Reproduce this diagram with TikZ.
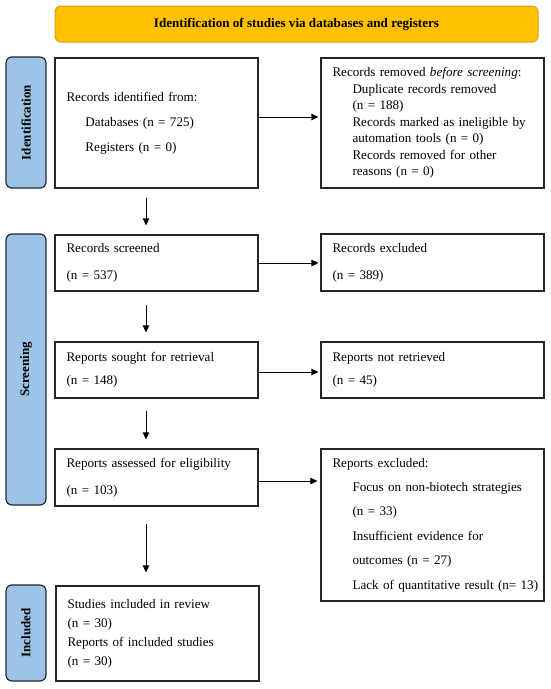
\documentclass[tikz,border=0pt]{standalone}
\usepackage{fontspec}
\setmainfont{Liberation Serif}
\usetikzlibrary{arrows.meta,calc}
\definecolor{gold}{HTML}{FFC000}
\definecolor{goldline}{HTML}{D4A20F}
\definecolor{barblue}{HTML}{9DC3E6}
\definecolor{barline}{HTML}{1C2A39}
\tikzset{
  stagebar/.style={draw=barline, fill=barblue, line width=1.2pt, rounded corners=6pt,
    minimum height=40pt, inner sep=0pt, rotate=90,
    font=\fontsize{13}{15}\selectfont\bfseries},
  banner/.style={draw=goldline, fill=gold, line width=1pt, rounded corners=6pt,
    minimum width=483pt, minimum height=36pt, inner sep=0pt,
    font=\fontsize{13.1}{15}\selectfont\bfseries},
  flowbox/.style={draw=black!85, line width=1.2pt, inner xsep=11.5pt, inner ysep=0pt,
    align=left, font=\fontsize{13.1}{16.5}\selectfont},
  leftbox/.style={flowbox, minimum width=203pt, text width=180pt},
  rightbox/.style={flowbox, minimum width=223pt, text width=200pt},
  arr/.style={line width=1pt, -{Triangle[length=7pt,width=6.5pt]}}
}
\begin{document}
\begin{tikzpicture}[x=1pt,y=-1pt]
\useasboundingbox (0,0) rectangle (550,689);
\fill[white] (0,0) rectangle (550,689);

\node[banner] (ban) at (296.5,24) {Identification of studies via databases and registers};

\node[stagebar, minimum width=131pt] (idbar) at (26,122.5) {Identification};
\node[stagebar, minimum width=271pt] (scbar) at (26,369.5) {Screening};
\node[stagebar, minimum width=96pt] (inbar) at (26,633) {Included};

\node[leftbox, minimum height=130pt, font=\fontsize{13.1}{25}\selectfont] (b1) at (156.5,123)
  {Records identified from:\\
   \hspace*{19pt}Databases (n = 725)\\
   \hspace*{19pt}Registers (n = 0)};
\node[rightbox, minimum height=130pt] (b2) at (432.5,123)
  {Records removed \textit{before screening}:\\
   \hspace*{20pt}Duplicate records removed\\
   \hspace*{20pt}(n = 188)\\
   \hspace*{20pt}Records marked as ineligible by\\
   \hspace*{20pt}automation tools (n = 0)\\
   \hspace*{20pt}Records removed for other\\
   \hspace*{20pt}reasons (n = 0)};

\node[leftbox, minimum height=56pt, font=\fontsize{13.1}{27}\selectfont] (scr) at (156.5,263)
  {Records screened\\(n = 537)};
\node[rightbox, minimum height=57pt, font=\fontsize{13.1}{27}\selectfont] (exc) at (432.5,262.5)
  {Records excluded\\(n = 389)};

\node[leftbox, minimum height=56pt, font=\fontsize{13.1}{23}\selectfont] (sou) at (156.5,370)
  {Reports sought for retrieval\\(n = 148)};
\node[rightbox, minimum height=56pt, font=\fontsize{13.1}{23}\selectfont] (nre) at (432.5,370)
  {Reports not retrieved\\(n = 45)};

\node[leftbox, minimum height=57pt, font=\fontsize{13.1}{27}\selectfont] (ass) at (156.5,477.5)
  {Reports assessed for eligibility\\(n = 103)};
\node[rightbox, minimum height=152pt, font=\fontsize{13.1}{24.4}\selectfont] (rex) at (432.5,525)
  {Reports excluded:\\
   \hspace*{20pt}Focus on non-biotech strategies\\
   \hspace*{20pt}(n = 33)\\
   \hspace*{20pt}Insufficient evidence for\\
   \hspace*{20pt}outcomes (n = 27)\\
   \hspace*{20pt}\mbox{Lack of quantitative result (n= 13)}};

\node[leftbox, minimum width=201pt, minimum height=95pt, font=\fontsize{13.1}{19}\selectfont] (stu) at (157.5,633.5)
  {Studies included in review\\(n = 30)\\Reports of included studies\\(n = 30)};

% horizontal arrows
\draw[arr, shorten >=2pt] ([yshift=6pt]b1.east) -- ([yshift=6pt]b1.east -| b2.west);
\draw[arr, shorten >=2pt] (scr.east) -- (scr.east -| exc.west);
\draw[arr, shorten >=2pt] ([yshift=-2pt]sou.east) -- ([yshift=-2pt]sou.east -| nre.west);
\draw[arr, shorten >=3pt] ([yshift=-3.5pt]ass.east) -- ([yshift=-3.5pt]ass.east -| rex.west);

% vertical arrows
\draw[arr, shorten <=9pt, shorten >=9pt] ([xshift=-10.5pt]b1.south) -- ([xshift=-10.5pt]b1.south |- scr.north);
\draw[arr, shorten <=13pt, shorten >=9pt] ([xshift=-10.5pt]scr.south) -- ([xshift=-10.5pt]scr.south |- sou.north);
\draw[arr, shorten <=12pt, shorten >=9pt] ([xshift=-10.5pt]sou.south) -- ([xshift=-10.5pt]sou.south |- ass.north);
\draw[arr, shorten <=17pt, shorten >=13pt] ([xshift=-10.5pt]ass.south) -- ([xshift=-10.5pt]ass.south |- stu.north);
\end{tikzpicture}
\end{document}
